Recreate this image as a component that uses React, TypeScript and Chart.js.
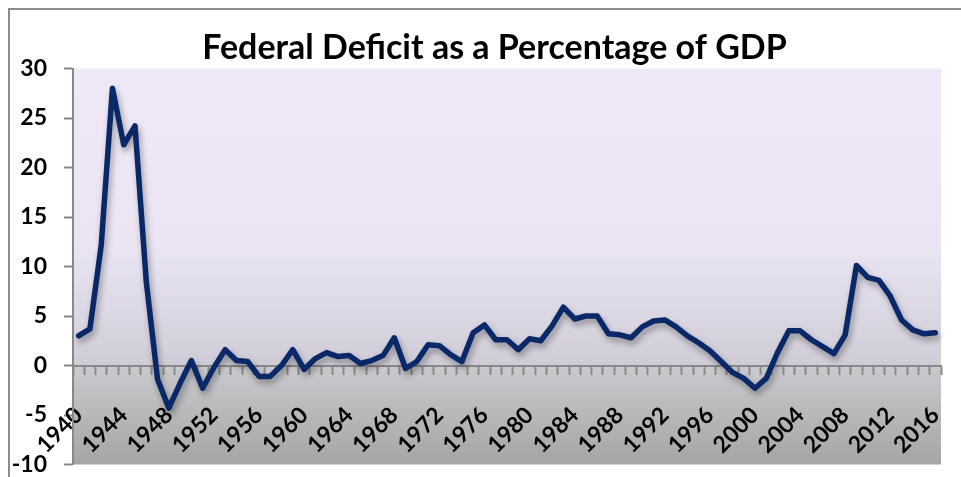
import React, { useEffect, useRef } from "react";
import { Chart, registerables } from "chart.js";

Chart.register(...registerables);

const years = [
  "1940", "1941", "1942", "1943", "1944", "1945", "1946", "1947", "1948", "1949",
  "1950", "1951", "1952", "1953", "1954", "1955", "1956", "1957", "1958", "1959",
  "1960", "1961", "1962", "1963", "1964", "1965", "1966", "1967", "1968", "1969",
  "1970", "1971", "1972", "1973", "1974", "1975", "1976", "1977", "1978", "1979",
  "1980", "1981", "1982", "1983", "1984", "1985", "1986", "1987", "1988", "1989",
  "1990", "1991", "1992", "1993", "1994", "1995", "1996", "1997", "1998", "1999",
  "2000", "2001", "2002", "2003", "2004", "2005", "2006", "2007", "2008", "2009",
  "2010", "2011", "2012", "2013", "2014", "2015", "2016",
];

const deficitPct = [
  3.0, 3.7, 12.1, 28.0, 22.3, 24.2, 8.5, -1.4, -4.3, -1.8,
  0.5, -2.3, -0.2, 1.6, 0.5, 0.4, -1.1, -1.1, 0.0, 1.6,
  -0.4, 0.7, 1.3, 0.9, 1.0, 0.2, 0.5, 1.0, 2.8, -0.3,
  0.4, 2.1, 2.0, 1.1, 0.4, 3.3, 4.1, 2.6, 2.6, 1.6,
  2.7, 2.5, 4.0, 5.9, 4.7, 5.0, 5.0, 3.2, 3.1, 2.8,
  3.9, 4.5, 4.6, 3.9, 3.0, 2.3, 1.5, 0.4, -0.7, -1.3,
  -2.3, -1.3, 1.3, 3.5, 3.5, 2.6, 1.9, 1.2, 3.1, 10.1,
  8.9, 8.6, 7.0, 4.6, 3.6, 3.2, 3.3,
];

const labeledYears = [
  "1940", "1944", "1948", "1952", "1956", "1960", "1964", "1968", "1972", "1976",
  "1980", "1984", "1988", "1992", "1996", "2000", "2004", "2008", "2012", "2016",
];

const yMin = -10;
const yMax = 30;
const yStep = 5;
const chartTitle = "Federal Deficit as a Percentage of GDP";

const FONT = "Lato, 'Open Sans', sans-serif";

export default function App() {
  const ref = useRef<HTMLCanvasElement>(null);

  useEffect(() => {
    if (!ref.current) return;

    const plotBg = {
      id: "plotBg",
      beforeDraw(chart: any) {
        const { ctx, chartArea: a } = chart;
        const g = ctx.createLinearGradient(0, a.top, 0, a.bottom);
        g.addColorStop(0, "#efe9f7");
        g.addColorStop(0.45, "#ebe5f3");
        g.addColorStop(0.75, "#cfccd7");
        g.addColorStop(0.76, "#c9c8cd");
        g.addColorStop(1, "#a5a5a5");
        ctx.save();
        ctx.fillStyle = g;
        ctx.fillRect(a.left, a.top, a.right - a.left, a.bottom - a.top);
        ctx.restore();
      },
    };

    const titleText = {
      id: "titleText",
      afterDraw(chart: any) {
        const ctx = chart.ctx;
        ctx.save();
        ctx.font = `bold 34px ${FONT}`;
        ctx.fillStyle = "#000";
        ctx.textAlign = "center";
        ctx.textBaseline = "middle";
        ctx.fillText(chartTitle, 484.5, 38.5);
        ctx.restore();
      },
    };

    const lineShadow = {
      id: "lineShadow",
      beforeDatasetsDraw(chart: any) {
        const ctx = chart.ctx;
        ctx.save();
        ctx.shadowColor = "rgba(0,0,0,0.35)";
        ctx.shadowBlur = 6;
        ctx.shadowOffsetX = 2;
        ctx.shadowOffsetY = 4;
      },
      afterDatasetsDraw(chart: any) {
        chart.ctx.restore();
      },
    };

    const chart = new Chart(ref.current, {
      type: "line",
      data: {
        labels: years,
        datasets: [
          {
            data: deficitPct,
            borderColor: "#082867",
            borderWidth: 5.5,
            pointRadius: 0,
            tension: 0,
            borderJoinStyle: "round",
            borderCapStyle: "round",
            fill: false,
          },
        ],
      },
      options: {
        animation: false,
        responsive: false,
        events: [],
        layout: { padding: { left: 0, right: 20, top: 58.5, bottom: 29.5 } },
        plugins: {
          legend: { display: false },
          tooltip: { enabled: false },
          title: { display: false },
        },
        scales: {
          x: {
            type: "category",
            position: { y: 0 } as any,
            offset: true,
            afterFit(scale: any) {
              scale.paddingLeft = 0;
              scale.paddingRight = 0;
            },
            grid: {
              offset: true,
              drawOnChartArea: false,
              drawTicks: true,
              tickLength: 8,
              tickColor: "#888888",
              tickWidth: 2,
            },
            border: { display: true, color: "#888888", width: 2 },
            ticks: {
              autoSkip: false,
              minRotation: 45,
              maxRotation: 45,
              padding: 28,
              color: "#000",
              font: { family: FONT, size: 23, weight: "bold" },
              callback: function (this: any, value: any, index: number) {
                const lbl = years[index];
                return labeledYears.includes(lbl) ? lbl : "";
              },
            },
          },
          y: {
            min: yMin,
            max: yMax,
            afterFit(scale: any) {
              scale.width = 63;
              scale.paddingTop = 0;
              scale.paddingBottom = 0;
            },
            grid: {
              drawOnChartArea: false,
              drawTicks: true,
              tickLength: 9,
              tickColor: "#888888",
              tickWidth: 2,
            },
            border: { display: true, color: "#888888", width: 2 },
            ticks: {
              stepSize: yStep,
              padding: 17,
              color: "#000",
              font: { family: FONT, size: 23, weight: "bold" },
            },
          },
        },
      },
      plugins: [plotBg, lineShadow, titleText],
    });

    return () => chart.destroy();
  }, []);

  return (
    <div
      style={{
        position: "fixed",
        left: 8,
        top: 8,
        width: 951,
        height: 467,
        overflow: "hidden",
        borderLeft: "2px solid #8c8c8c",
        borderTop: "2px solid #8c8c8c",
        background: "#fff",
      }}
    >
      <canvas ref={ref} width={951} height={484} style={{ display: "block" }} />
    </div>
  );
}
